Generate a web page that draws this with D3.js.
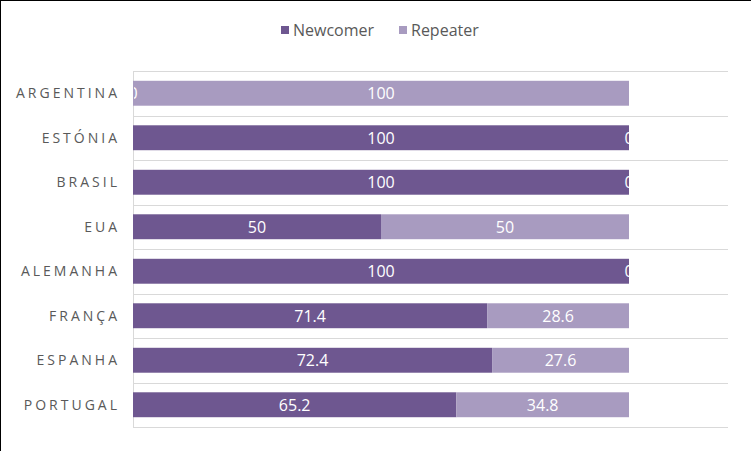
<!DOCTYPE html>
<html>
<head>
<meta charset="utf-8">
<script src="https://cdn.jsdelivr.net/npm/d3@7"></script>
<style>
  html, body { margin: 0; padding: 0; background: #fff; }
  svg { display: block; font-family: "Open Sans", "Noto Sans", sans-serif; }
</style>
</head>
<body>
<svg id="chart" width="751" height="451"></svg>
<script>
/* ─── Data ─────────────────────────────────────────────────────────────── */

const countries = ['ARGENTINA', 'ESTÓNIA', 'BRASIL', 'EUA', 'ALEMANHA', 'FRANÇA', 'ESPANHA', 'PORTUGAL'];
const newcomer  = [0, 100, 100, 50, 100, 71.4, 72.4, 65.2];
const repeater  = [100, 0, 0, 50, 0, 28.6, 27.6, 34.8];
const seriesNames = ['Newcomer', 'Repeater'];
const seriesColors = ['#6E5790', '#A89BC0'];

/* ─── Layout ───────────────────────────────────────────────────────────── */

const W = 751, H = 451;
const plot = { left: 133, right: 728, top: 71, bottom: 427 };
const barEnd = 629; // x position of 100

const svg = d3.select('#chart');

svg.append('rect').attr('width', W).attr('height', H).attr('fill', '#fff');

const x = d3.scaleLinear().domain([0, 100]).range([plot.left, barEnd]);
const y = d3.scaleBand().domain(countries).range([plot.top, plot.bottom]).paddingInner(0.44).paddingOuter(0.22);

// horizontal gridlines between categories
const gridY = d3.range(countries.length + 1).map(i => plot.top + i * (plot.bottom - plot.top) / countries.length);
svg.append('g').selectAll('line')
  .data(gridY)
  .join('line')
  .attr('x1', plot.left).attr('x2', plot.right)
  .attr('y1', d => Math.round(d) + 0.5).attr('y2', d => Math.round(d) + 0.5)
  .attr('stroke', '#D9D9D9').attr('stroke-width', 1);

// vertical axis line
svg.append('line')
  .attr('x1', plot.left + 0.5).attr('x2', plot.left + 0.5)
  .attr('y1', plot.top).attr('y2', plot.bottom)
  .attr('stroke', '#D9D9D9');

/* ─── Bars ─────────────────────────────────────────────────────────────── */

const rows = countries.map((c, i) => ({ country: c, Newcomer: newcomer[i], Repeater: repeater[i] }));
const stacked = d3.stack().keys(seriesNames)(rows);

const layers = svg.append('g').selectAll('g')
  .data(stacked)
  .join('g')
  .attr('fill', (d, i) => seriesColors[i]);

layers.selectAll('rect')
  .data(d => d)
  .join('rect')
  .attr('x', d => x(d[0]))
  .attr('width', d => x(d[1]) - x(d[0]))
  .attr('y', d => y(d.data.country))
  .attr('height', y.bandwidth());

/* ─── Data labels (clipped to the bar area) ────────────────────────────── */

svg.append('clipPath').attr('id', 'bar-clip')
  .append('rect')
  .attr('x', plot.left + 1).attr('y', plot.top)
  .attr('width', barEnd - plot.left - 1).attr('height', plot.bottom - plot.top);

const labels = svg.append('g').attr('clip-path', 'url(#bar-clip)');
stacked.forEach(layer => {
  labels.append('g').selectAll('text')
    .data(layer)
    .join('text')
    .attr('x', d => (x(d[0]) + x(d[1])) / 2)
    .attr('y', d => y(d.data.country) + y.bandwidth() / 2)
    .attr('dy', '0.36em')
    .attr('text-anchor', 'middle')
    .attr('fill', '#fff')
    .attr('font-size', 16)
    .text(d => d3.format('~g')(d[1] - d[0]));
});

/* ─── Category labels ──────────────────────────────────────────────────── */

svg.append('g').selectAll('text')
  .data(countries)
  .join('text')
  .attr('x', 120)
  .attr('y', d => y(d) + y.bandwidth() / 2)
  .attr('dy', '0.36em')
  .attr('text-anchor', 'end')
  .attr('fill', '#595959')
  .attr('font-size', 14)
  .attr('letter-spacing', 3)
  .text(d => d);

/* ─── Legend ───────────────────────────────────────────────────────────── */

const legendX = [281, 399];
const legend = svg.append('g').selectAll('g')
  .data(seriesNames)
  .join('g')
  .attr('transform', (d, i) => `translate(${legendX[i]},30)`);

legend.append('rect')
  .attr('x', 0).attr('y', -4).attr('width', 8).attr('height', 8)
  .attr('fill', (d, i) => seriesColors[i]);

legend.append('text')
  .attr('x', 12).attr('dy', '0.36em')
  .attr('fill', '#595959')
  .attr('font-size', 16)
  .text(d => d);

/* ─── Frame (left and top edges) ───────────────────────────────────────── */

svg.append('line').attr('x1', 0.5).attr('x2', 0.5).attr('y1', 0).attr('y2', H).attr('stroke', '#000');
svg.append('line').attr('x1', 0).attr('x2', W).attr('y1', 0.5).attr('y2', 0.5).attr('stroke', '#000');
</script>
</body>
</html>
